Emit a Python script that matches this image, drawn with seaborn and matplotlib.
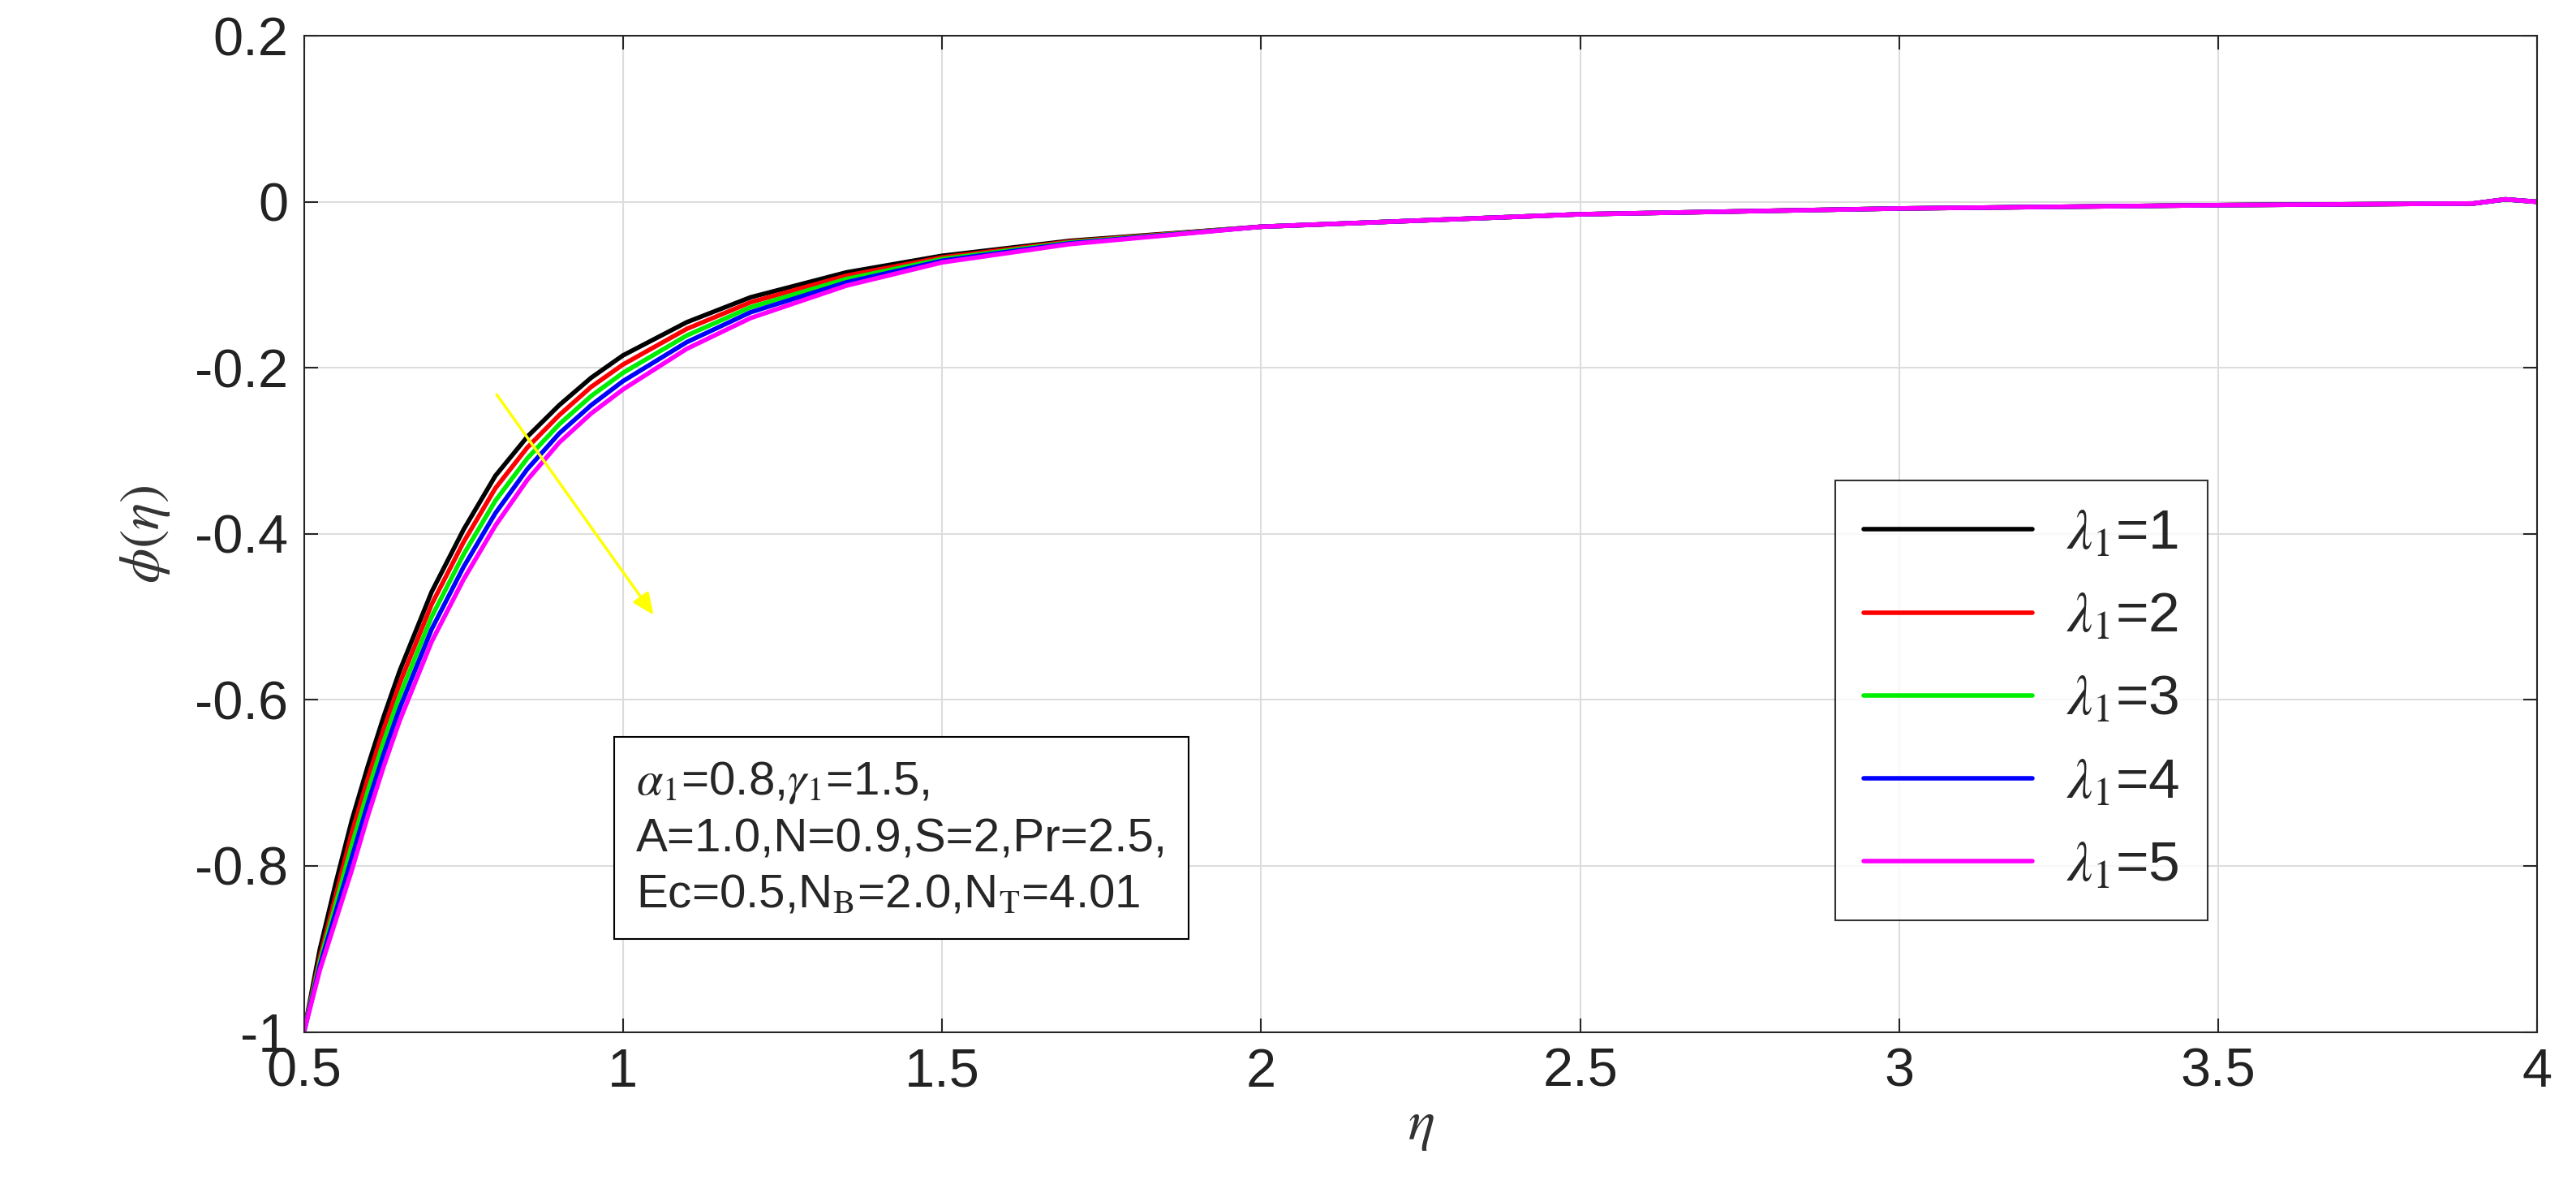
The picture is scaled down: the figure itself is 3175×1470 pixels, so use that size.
import numpy as np
import matplotlib
matplotlib.use("Agg")
import matplotlib.pyplot as plt
import seaborn as sns
import pandas as pd

eta = [0.5, 0.525, 0.55, 0.575, 0.6, 0.625, 0.65, 0.7, 0.75, 0.8, 0.85, 0.9, 0.95, 1.0, 1.1, 1.2, 1.35, 1.5, 1.7, 2.0, 2.5, 3.0, 3.5, 3.9, 3.95, 4.0]
phi_l1 = [-1.0, -0.9, -0.82, -0.745, -0.68, -0.62, -0.565, -0.47, -0.395, -0.33, -0.283, -0.245, -0.212, -0.185, -0.145, -0.115, -0.085, -0.065, -0.047, -0.03, -0.015, -0.008, -0.004, -0.002, 0.003, 0.0]
phi_l2 = [-1.0, -0.91, -0.835, -0.76, -0.695, -0.635, -0.58, -0.485, -0.41, -0.345, -0.296, -0.257, -0.223, -0.196, -0.153, -0.121, -0.089, -0.067, -0.048, -0.03, -0.015, -0.008, -0.004, -0.002, 0.003, 0.0]
phi_l3 = [-1.0, -0.915, -0.845, -0.775, -0.71, -0.65, -0.595, -0.5, -0.425, -0.36, -0.309, -0.268, -0.234, -0.206, -0.161, -0.127, -0.093, -0.069, -0.049, -0.03, -0.015, -0.008, -0.004, -0.002, 0.003, 0.0]
phi_l4 = [-1.0, -0.92, -0.855, -0.79, -0.725, -0.665, -0.61, -0.515, -0.44, -0.375, -0.322, -0.279, -0.245, -0.216, -0.169, -0.133, -0.097, -0.071, -0.05, -0.03, -0.015, -0.008, -0.004, -0.002, 0.003, 0.0]
phi_l5 = [-1.0, -0.925, -0.865, -0.805, -0.74, -0.68, -0.625, -0.53, -0.455, -0.39, -0.335, -0.29, -0.255, -0.226, -0.177, -0.14, -0.101, -0.073, -0.051, -0.03, -0.015, -0.008, -0.004, -0.002, 0.003, 0.0]
labels = [r"$\lambda_1$=1", r"$\lambda_1$=2", r"$\lambda_1$=3", r"$\lambda_1$=4", r"$\lambda_1$=5"]
colors = ["black", "red", "#00ee00", "blue", "magenta"]

rows = []
for lab, ys in zip(labels, [phi_l1, phi_l2, phi_l3, phi_l4, phi_l5]):
    for x, y in zip(eta, ys):
        rows.append({"eta": x, "phi": y, "case": lab})
df = pd.DataFrame(rows)

sns.set_style("ticks")
plt.rcParams["font.family"] = ["Liberation Sans", "DejaVu Sans"]
plt.rcParams["mathtext.fontset"] = "stix"
fig = plt.figure(figsize=(31.75, 14.7), dpi=100)
ax = fig.add_axes([0.118, 0.135, 0.867, 0.835])
sns.lineplot(data=df, x="eta", y="phi", hue="case", palette=colors, linewidth=4, ax=ax, sort=True)
ax.set_xlim(0.5, 4)
ax.set_ylim(-1, 0.2)
ax.set_xticks([0.5, 1, 1.5, 2, 2.5, 3, 3.5, 4])
ax.set_xticklabels(["0.5", "1", "1.5", "2", "2.5", "3", "3.5", "4"])
ax.set_yticks([-1, -0.8, -0.6, -0.4, -0.2, 0, 0.2])
ax.set_yticklabels(["-1", "-0.8", "-0.6", "-0.4", "-0.2", "0", "0.2"])
ax.tick_params(labelsize=48, direction="in", length=12, width=1.5, top=True, right=True, pad=14, labelcolor="#222222")
ax.grid(True, color="#dddddd", linewidth=1.5)
for s in ax.spines.values():
    s.set_linewidth(1.5)
ax.set_xlabel(r"$\eta$", fontsize=50, color="#333333", labelpad=2)
ax.set_ylabel(r"$\phi(\eta)$", fontsize=50, color="#333333", labelpad=20)
leg = ax.legend(loc="upper left", bbox_to_anchor=(0.673, 0.582), fontsize=50, handlelength=3.0,
                frameon=True, fancybox=False, edgecolor="black", labelspacing=0.55, borderpad=0.5,
                handletextpad=0.6)
leg.get_frame().set_linewidth(1.5)
for h in leg.get_lines():
    h.set_linewidth(4)
ax.annotate("", xy=(1.05, -0.5), xytext=(0.8, -0.23),
            arrowprops=dict(arrowstyle="-|>,head_length=1.6,head_width=0.7", color="yellow", lw=2.5))
ax.text(1.02, -0.672, r"$\alpha_1$=0.8,$\gamma_1$=1.5," "\n" "A=1.0,N=0.9,S=2,Pr=2.5," "\n" r"Ec=0.5,N$_\mathrm{B}$=2.0,N$_\mathrm{T}$=4.01",
        fontsize=42, va="top", linespacing=1.35,
        bbox=dict(boxstyle="square,pad=0.45", facecolor="white", edgecolor="black", linewidth=1.5))
fig.savefig("out.png", dpi=100)
